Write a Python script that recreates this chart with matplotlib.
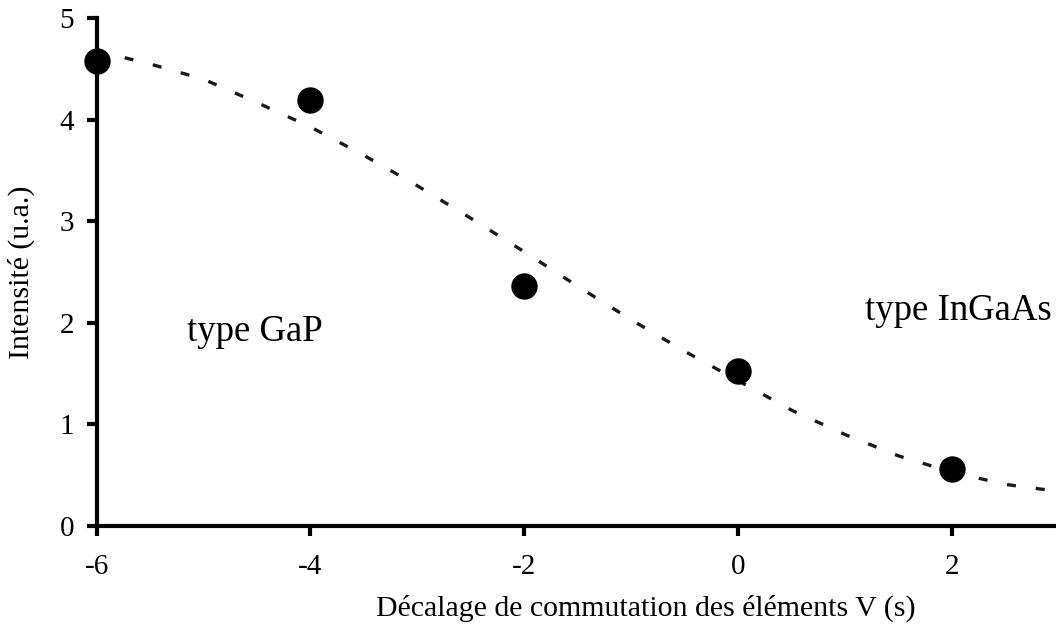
import matplotlib.pyplot as plt

plt.rcParams['font.family'] = ['Liberation Serif', 'DejaVu Serif']
plt.rcParams['axes.unicode_minus'] = False

# measured points
x_pts = [-6, -4, -2, 0, 2]
y_pts = [4.58, 4.20, 2.36, 1.53, 0.56]

# fitted curve
x_fit = [-6, -5.5, -5, -4.5, -4, -3.5, -3, -2.5, -2, -1.5, -1, -0.5,
         0, 0.5, 1, 1.5, 2, 2.5, 3]
y_fit = [4.68, 4.55, 4.40, 4.17, 3.93, 3.65, 3.35, 3.03, 2.70, 2.36, 2.03, 1.72,
         1.43, 1.14, 0.90, 0.69, 0.53, 0.41, 0.34]

x_ticks = [-6, -4, -2, 0, 2]
y_ticks = [0, 1, 2, 3, 4, 5]

fig = plt.figure(figsize=(10.56, 6.3), dpi=100)
ax = fig.add_axes([0.0914, 0.165, 0.9086, 0.806])

# dashed fit line
ax.plot(x_fit, y_fit, color='#1a1a1a', linewidth=2.4, dashes=(2.7, 6.0),
        clip_on=False, zorder=2)
# data points
ax.plot(x_pts, y_pts, 'o', color='black', markersize=18, clip_on=False, zorder=3)

ax.text(-5.15, 1.82, 'type GaP', fontsize=26.5, ha='left', va='baseline')
ax.text(1.18, 2.03, 'type InGaAs', fontsize=26.5, ha='left', va='baseline')

ax.set_xlim(-6, 2.97)
ax.set_ylim(0, 5)
ax.set_xticks(x_ticks)
ax.set_yticks(y_ticks)

for s in ['top', 'right']:
    ax.spines[s].set_visible(False)
for s in ['left', 'bottom']:
    ax.spines[s].set_linewidth(3)

ax.tick_params(axis='both', direction='out', length=7, width=3, labelsize=21)
ax.tick_params(axis='x', pad=13)
ax.tick_params(axis='y', pad=9)

ax.set_xlabel('Décalage de commutation des éléments V (s)', fontsize=21.5)
ax.xaxis.set_label_coords(0.572, -0.136)
ax.set_ylabel('Intensité (u.a.)', fontsize=21.5)
ax.yaxis.set_label_coords(-0.064, 0.5)

fig.savefig('out.png', dpi=100)
